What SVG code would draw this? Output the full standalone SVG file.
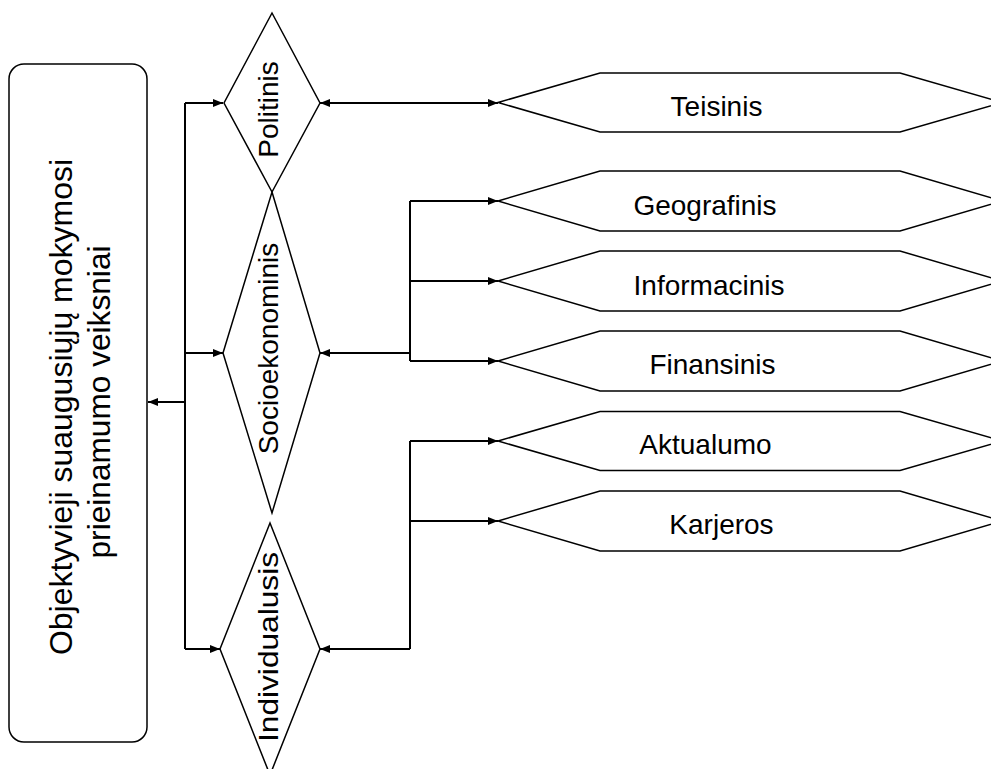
<svg xmlns="http://www.w3.org/2000/svg" width="991" height="769" viewBox="0 0 991 769">
  <defs>
    <marker id="arrow" viewBox="0 0 10 8" refX="10" refY="4" markerWidth="10" markerHeight="8" markerUnits="userSpaceOnUse" orient="auto-start-reverse">
      <path d="M0,0 L10,4 L0,8 z" fill="#000"/>
    </marker>
    <style>
      .shape { fill: #fff; stroke: #000; stroke-width: 1.5; }
      .conn { fill: none; stroke: #000; stroke-width: 2; }
      .arr { marker-end: url(#arrow); }
      .label { font-family: "Liberation Sans", Arial, sans-serif; font-size: 28px; fill: #000; }
      .main { font-family: "Liberation Sans", Arial, sans-serif; font-size: 32px; fill: #000; }
    </style>
  </defs>
  <rect width="991" height="769" fill="#fff"/>

  <!-- connectors -->
  <g id="connectors">
    <!-- left trunk -->
    <path class="conn" d="M185,103 V649"/>
    <path class="conn arr" d="M185,103 H223"/>
    <path class="conn arr" d="M185,353 H223"/>
    <path class="conn arr" d="M185,649 H220"/>
    <path class="conn arr" d="M185,402 H148"/>
    <!-- Politinis to Teisinis -->
    <path class="conn arr" d="M410,103 H320"/>
    <path class="conn arr" d="M410,103 H498"/>
    <!-- Socioekonominis branch -->
    <path class="conn" d="M410,201 V361"/>
    <path class="conn arr" d="M410,353 H320"/>
    <path class="conn arr" d="M410,201 H498"/>
    <path class="conn arr" d="M410,281 H498"/>
    <path class="conn arr" d="M410,361 H498"/>
    <!-- Individualusis branch -->
    <path class="conn" d="M410,441 V649"/>
    <path class="conn arr" d="M410,649 H320"/>
    <path class="conn arr" d="M410,441 H498"/>
    <path class="conn arr" d="M410,521 H498"/>
  </g>

  <g id="root">
    <rect class="shape" x="9" y="64" width="138" height="678" rx="15" ry="15"/>
    <text class="main" text-anchor="middle" transform="translate(72,407) rotate(-90)">Objektyvieji suaugusiųjų mokymosi</text>
    <text class="main" text-anchor="middle" textLength="313" lengthAdjust="spacingAndGlyphs" transform="translate(110,402) rotate(-90)">prieinamumo veiksniai</text>
  </g>

  <g id="politinis">
    <polygon class="shape" points="272,13 320,103 272,192 224,103"/>
    <text class="label" text-anchor="middle" transform="translate(278,109.5) rotate(-90)">Politinis</text>
  </g>
  <g id="socioekonominis">
    <polygon class="shape" points="272,192 320,353 272,513 223,353"/>
    <text class="label" text-anchor="middle" transform="translate(278,348.5) rotate(-90)">Socioekonominis</text>
  </g>
  <g id="individualusis">
    <polygon class="shape" points="270,523 320,649 270,775 220,649"/>
    <text class="label" text-anchor="middle" textLength="190" lengthAdjust="spacingAndGlyphs" transform="translate(278,647) rotate(-90)">Individualusis</text>
  </g>

  <g id="teisinis">
    <polygon class="shape" points="498,102.5 600,73 900,73 1002,102.5 900,132 600,132"/>
    <text class="label" text-anchor="middle" x="716.5" y="116">Teisinis</text>
  </g>
  <g id="geografinis">
    <polygon class="shape" points="498,201 600,171 900,171 1002,201 900,231 600,231"/>
    <text class="label" text-anchor="middle" x="705" y="215">Geografinis</text>
  </g>
  <g id="informacinis">
    <polygon class="shape" points="498,281 600,251 900,251 1002,281 900,311 600,311"/>
    <text class="label" text-anchor="middle" x="709" y="295">Informacinis</text>
  </g>
  <g id="finansinis">
    <polygon class="shape" points="498,361 600,331 900,331 1002,361 900,391 600,391"/>
    <text class="label" text-anchor="middle" x="712.5" y="374">Finansinis</text>
  </g>
  <g id="aktualumo">
    <polygon class="shape" points="498,441 600,411.5 900,411.5 1002,441 900,470.5 600,470.5"/>
    <text class="label" text-anchor="middle" x="705.5" y="454">Aktualumo</text>
  </g>
  <g id="karjeros">
    <polygon class="shape" points="498,521 600,491 900,491 1002,521 900,551 600,551"/>
    <text class="label" text-anchor="middle" x="721.5" y="534">Karjeros</text>
  </g>
</svg>
